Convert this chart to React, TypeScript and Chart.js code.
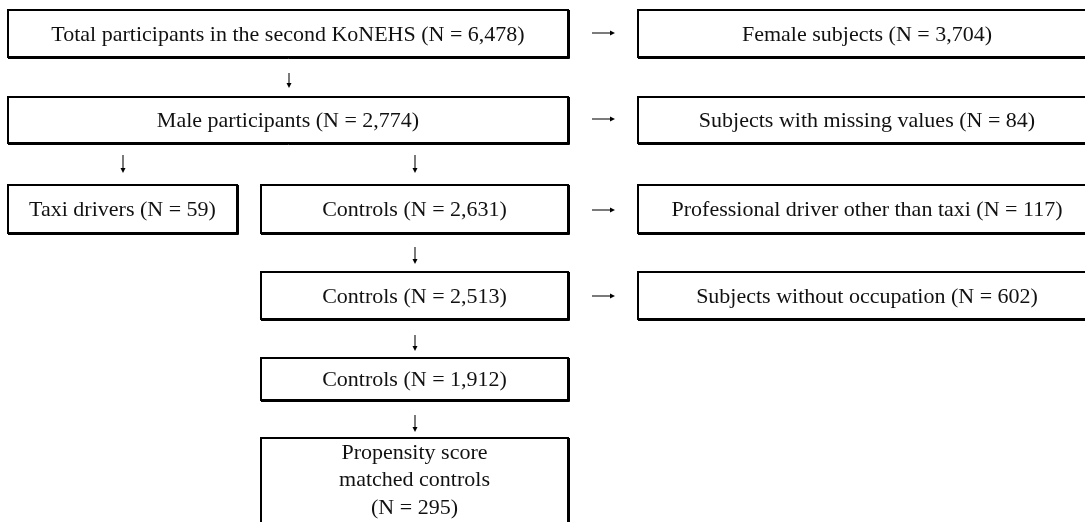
import React, { useEffect, useRef } from "react";
import { Chart, registerables } from "chart.js";

Chart.register(...registerables);

// ---- Flowchart content ----
const nodeLabels: string[][] = [
  ["Total participants in the second KoNEHS (N = 6,478)"],
  ["Female subjects (N = 3,704)"],
  ["Male participants (N = 2,774)"],
  ["Subjects with missing values (N = 84)"],
  ["Taxi drivers (N = 59)"],
  ["Controls (N = 2,631)"],
  ["Professional driver other than taxi (N = 117)"],
  ["Controls (N = 2,513)"],
  ["Subjects without occupation (N = 602)"],
  ["Controls (N = 1,912)"],
  ["Propensity score", "matched controls", "(N = 295)"],
];

// box extents in diagram units (x0, x1, y0, y1)
const boxX0 = [8, 638, 8, 638, 8, 261, 638, 261, 638, 261, 261];
const boxX1 = [568, 1096, 568, 1096, 237, 568, 1096, 568, 1096, 568, 568];
const boxY0 = [10, 10, 97, 97, 185, 185, 185, 272, 272, 358, 438];
const boxY1 = [57, 57, 143, 143, 233, 233, 233, 319, 319, 400, 530];

// arrows: [x0, y0, x1, y1]
const arrowX0 = [592, 289, 592, 123, 415, 592, 415, 592, 415, 415];
const arrowY0 = [33, 73, 119, 155, 155, 210, 247, 296, 335, 415];
const arrowX1 = [615, 289, 615, 123, 415, 615, 415, 615, 415, 415];
const arrowY1 = [33, 88, 119, 173, 173, 210, 264, 296, 351, 432];

const FONT = "22px 'Liberation Serif', 'Times New Roman', serif";

const flowPlugin = {
  id: "flow",
  afterDatasetsDraw(chart: any) {
    const { ctx, scales } = chart;
    const xs = scales.x;
    const ys = scales.y;
    ctx.save();
    // boxes
    for (let i = 0; i < nodeLabels.length; i++) {
      const x0 = xs.getPixelForValue(boxX0[i]);
      const x1 = xs.getPixelForValue(boxX1[i]);
      const y0 = ys.getPixelForValue(boxY0[i]);
      const y1 = ys.getPixelForValue(boxY1[i]);
      ctx.fillStyle = "#ffffff";
      ctx.fillRect(x0, y0, x1 - x0, y1 - y0);
      ctx.strokeStyle = "#000000";
      ctx.lineWidth = 2;
      ctx.strokeRect(x0, y0, x1 - x0, y1 - y0);
      // heavier right / bottom edges (shadow look)
      ctx.lineWidth = 1;
      ctx.beginPath();
      ctx.moveTo(x1 + 1.5, y0);
      ctx.lineTo(x1 + 1.5, y1 + 1.5);
      ctx.lineTo(x0, y1 + 1.5);
      ctx.stroke();
      // text
      ctx.fillStyle = "#111111";
      ctx.font = FONT;
      ctx.textAlign = "center";
      ctx.textBaseline = "middle";
      const lines = nodeLabels[i];
      const cx = (x0 + x1) / 2;
      const lh = 27.5;
      let cy: number;
      if (lines.length === 1) {
        cy = (y0 + y1) / 2 + 1.5;
      } else {
        cy = y0 + 15;
      }
      lines.forEach((ln, k) => {
        ctx.fillText(ln, cx, cy + k * lh);
      });
    }
    // arrows
    ctx.strokeStyle = "#222222";
    ctx.fillStyle = "#000000";
    ctx.lineWidth = 1.2;
    for (let i = 0; i < arrowX0.length; i++) {
      const ax0 = xs.getPixelForValue(arrowX0[i]);
      const ay0 = ys.getPixelForValue(arrowY0[i]);
      const ax1 = xs.getPixelForValue(arrowX1[i]);
      const ay1 = ys.getPixelForValue(arrowY1[i]);
      const ang = Math.atan2(ay1 - ay0, ax1 - ax0);
      const hl = 5;
      const hw = 2.5;
      const bx = ax1 - hl * Math.cos(ang);
      const by = ay1 - hl * Math.sin(ang);
      ctx.beginPath();
      ctx.moveTo(ax0, ay0);
      ctx.lineTo(bx, by);
      ctx.stroke();
      ctx.beginPath();
      ctx.moveTo(ax1, ay1);
      ctx.lineTo(bx - hw * Math.sin(ang), by + hw * Math.cos(ang));
      ctx.lineTo(bx + hw * Math.sin(ang), by - hw * Math.cos(ang));
      ctx.closePath();
      ctx.fill();
    }
    ctx.restore();
  },
};

export default function App() {
  const ref = useRef<HTMLCanvasElement | null>(null);
  useEffect(() => {
    if (!ref.current) return;
    const centers = nodeLabels.map((_, i) => ({
      x: (boxX0[i] + boxX1[i]) / 2,
      y: (boxY0[i] + boxY1[i]) / 2,
    }));
    const chart = new Chart(ref.current, {
      type: "scatter",
      data: {
        datasets: [
          {
            label: "nodes",
            data: centers,
            pointRadius: 0,
            pointHoverRadius: 0,
          },
        ],
      },
      options: {
        animation: false,
        responsive: false,
        devicePixelRatio: 1,
        layout: { padding: 0 },
        plugins: {
          legend: { display: false },
          tooltip: { enabled: false },
        },
        events: [],
        scales: {
          x: { type: "linear", min: 0, max: 1085, display: false },
          y: { type: "linear", min: 0, max: 522, reverse: true, display: false },
        },
      },
      plugins: [flowPlugin],
    });
    return () => chart.destroy();
  }, []);
  return (
    <div style={{ position: "fixed", left: 0, top: 0, width: 1085, height: 522, background: "#fff" }}>
      <canvas ref={ref} width={1085} height={522} style={{ display: "block" }} />
    </div>
  );
}
